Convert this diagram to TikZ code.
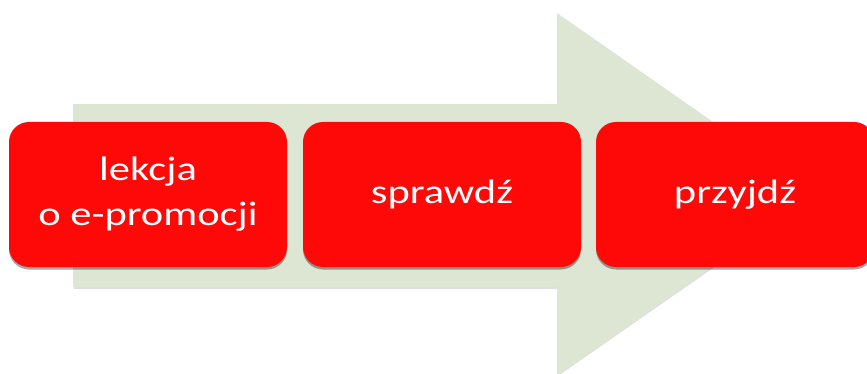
\documentclass[tikz,border=0pt]{standalone}
\usepackage{fontspec}
\newfontfamily\boxfont[FakeStretch=1.25]{Carlito}
\usetikzlibrary{shadows}
\definecolor{arrowgreen}{RGB}{221,230,210}
\definecolor{boxred}{RGB}{255,8,8}
\tikzset{
  stepbox/.style={draw=none, fill=boxred, rounded corners=20pt,
    minimum width=278pt, minimum height=145pt, inner sep=0pt,
    text=white, align=center,
    font=\boxfont\fontsize{34}{48}\selectfont,
    drop shadow={shadow xshift=0pt, shadow yshift=-2.5pt, opacity=0.35, fill=black}},
}
\begin{document}
\begin{tikzpicture}[x=1pt,y=-1pt]
  \useasboundingbox (0,0) rectangle (867,374);
  \clip (0,0) rectangle (867,374);
  % big background arrow
  \fill[black!25, opacity=0.5] (74,106) -- (558,106) -- (558,15) -- (818,195) -- (558,376) -- (558,289) -- (74,289) -- cycle;
  \fill[arrowgreen] (73,104) -- (557,104) -- (557,13) -- (816,194) -- (557,376) -- (557,287) -- (73,287) -- cycle;
  % boxes
  \node[stepbox] (b1) at (148,194.5) {\raisebox{-3pt}{lekcja}\\o e-promocji};
  \node[stepbox] (b2) at (442,194.5) {\raisebox{-2pt}{sprawdź}};
  \node[stepbox] (b3) at (735,194.5) {\raisebox{-2pt}{przyjdź}};
\end{tikzpicture}
\end{document}
